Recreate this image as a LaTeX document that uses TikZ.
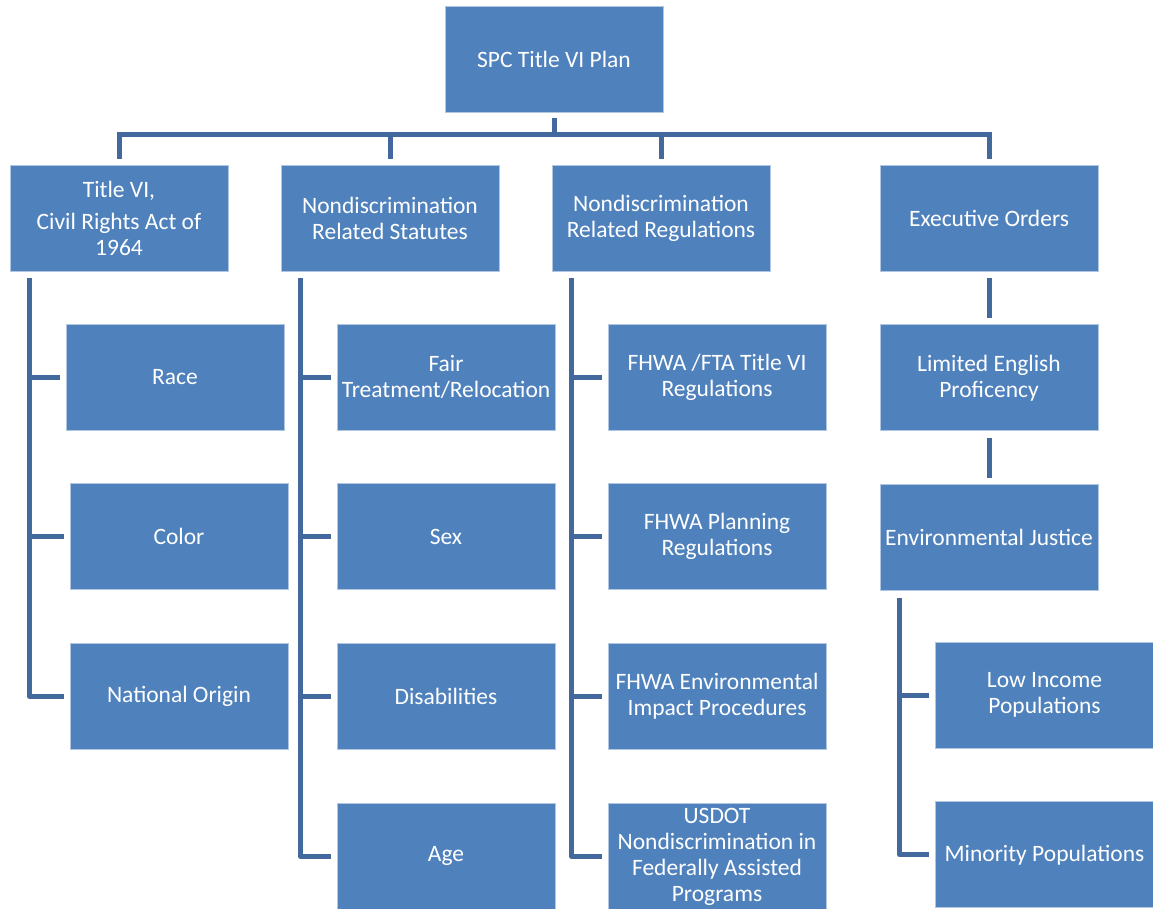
\documentclass[tikz,border=0pt]{standalone}
\usepackage{fontspec}
\setmainfont{Carlito}
\usetikzlibrary{positioning}
\definecolor{boxblue}{RGB}{79,129,189}
\definecolor{linkblue}{RGB}{66,104,158}

\begin{document}
\begin{tikzpicture}[x=1pt, y=-1pt,
    box/.style={rectangle, fill=boxblue, draw=boxblue!45!white, line width=0.8pt,
      minimum width=218pt, minimum height=106pt, inner sep=0pt, align=center,
      text=white, font=\fontsize{23.5}{26}\selectfont},
    link/.style={draw=linkblue, line width=5pt, line join=round},
    node distance=53pt]
    \useasboundingbox (0,0) rectangle (1153,909);

    % top and first level
    \node [box] (plan)  at (554,59)  {SPC Title VI Plan};
    \node [box] (title) at (119,218) {Title VI,\\[6pt] Civil Rights Act of\\ 1964};
    \node [box] (stat)  at (390,218) {Nondiscrimination\\ Related Statutes};
    \node [box] (regs)  at (661,218) {Nondiscrimination\\ Related Regulations};
    \node [box] (eo)    at (989,218) {Executive Orders};

    % Title VI column
    \node [box] (race)   at (175,377)                     {Race};
    \node [box] (color)  [below=of race, xshift=4pt]     {Color};
    \node [box] (origin) [below=of color]                {National Origin};

    % statutes column
    \node [box] (fair)   at (446,377)          {Fair\\ Treatment/Relocation};
    \node [box] (sex)    [below=of fair]       {Sex};
    \node [box] (disab)  [below=of sex]        {Disabilities};
    \node [box] (age)    [below=of disab]      {Age};

    % regulations column
    \node [box] (fta)    at (717,377)          {FHWA /FTA Title VI\\ Regulations};
    \node [box] (plann)  [below=of fta]        {FHWA Planning\\ Regulations};
    \node [box] (envimp) [below=of plann]      {FHWA Environmental\\ Impact Procedures};
    \node [box] (usdot)  [below=of envimp]     {USDOT\\ Nondiscrimination in\\ Federally Assisted\\ Programs};

    % executive orders column
    \node [box] (lep)    [below=of eo]         {Limited English\\ Proficency};
    \node [box] (ej)     [below=of lep]        {Environmental Justice};
    \node [box] (lowinc) at (1044.5,695)       {Low Income\\ Populations};
    \node [box] (minor)  [below=of lowinc]     {Minority Populations};

    \coordinate (bar) at (554,135);
    \draw [link] ([yshift=-6pt]plan.south) -- (bar);
    \draw [link, line cap=rect] (title.north |- bar) -- (eo.north |- bar);
    \foreach \n in {title,stat,regs,eo}
      \draw [link] (\n.north |- bar) -- ([yshift=6pt]\n.north);

    \foreach \n in {race,color,origin}
      \draw [link] ([xshift=20pt,yshift=-7pt]title.south west) |- ([xshift=-6pt]\n.west);
    \foreach \n in {fair,sex,disab,age}
      \draw [link] ([xshift=20pt,yshift=-7pt]stat.south west) |- ([xshift=-6pt]\n.west);
    \foreach \n in {fta,plann,envimp,usdot}
      \draw [link] ([xshift=20pt,yshift=-7pt]regs.south west) |- ([xshift=-6pt]\n.west);

    \draw [link] ([yshift=-7pt]eo.south) -- ([yshift=6pt]lep.north);
    \draw [link] ([yshift=-7pt]lep.south) -- ([yshift=6pt]ej.north);
    \foreach \n in {lowinc,minor}
      \draw [link] ([xshift=20pt,yshift=-7pt]ej.south west) |- ([xshift=-6pt]\n.west);
\end{tikzpicture}
\end{document}
